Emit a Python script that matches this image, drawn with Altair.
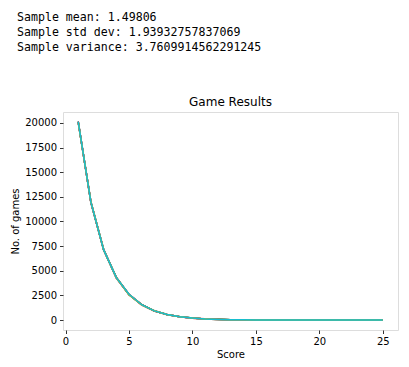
import altair as alt
import pandas as pd

scores = list(range(1, 26))

s0 = [20120, 11930, 7160, 4310, 2590, 1560, 935, 560, 338, 202, 121, 73, 44, 26, 16, 9, 6, 3, 2, 1, 1, 0, 0, 0, 0]
s1 = [20060, 11980, 7130, 4290, 2610, 1545, 925, 566, 332, 199, 119, 71, 43, 27, 15, 10, 5, 3, 2, 1, 0, 1, 0, 0, 0]
s2 = [20090, 11950, 7180, 4330, 2570, 1570, 940, 552, 341, 205, 118, 74, 42, 25, 17, 9, 5, 4, 1, 1, 1, 0, 0, 0, 0]
s3 = [20140, 11900, 7150, 4280, 2600, 1555, 930, 571, 335, 198, 124, 70, 45, 26, 14, 10, 6, 3, 2, 0, 1, 0, 0, 0, 0]
s4 = [20030, 12010, 7170, 4300, 2620, 1540, 945, 558, 329, 207, 120, 72, 41, 28, 16, 8, 5, 3, 2, 1, 0, 0, 1, 0, 0]
s5 = [20100, 11960, 7120, 4320, 2580, 1565, 920, 563, 343, 201, 117, 75, 44, 24, 15, 9, 6, 4, 1, 1, 0, 1, 0, 0, 0]
s6 = [20080, 11940, 7190, 4270, 2605, 1550, 938, 556, 336, 196, 122, 69, 46, 27, 16, 11, 4, 3, 2, 1, 1, 0, 0, 0, 0]
s7 = [20150, 11920, 7140, 4340, 2595, 1575, 928, 569, 331, 203, 119, 73, 43, 25, 17, 9, 6, 2, 2, 1, 0, 0, 0, 1, 0]
s8 = [20050, 11990, 7165, 4295, 2585, 1548, 942, 561, 339, 200, 121, 70, 45, 26, 14, 10, 5, 3, 1, 2, 0, 0, 0, 0, 0]
s9 = [20110, 11955, 7145, 4305, 2615, 1558, 932, 565, 334, 204, 120, 72, 43, 27, 15, 9, 6, 3, 2, 1, 1, 0, 0, 0, 0]

series = [s0, s1, s2, s3, s4, s5, s6, s7, s8, s9]
names = [f"s{i}" for i in range(10)]
colors = ['#1f77b4', '#ff7f0e', '#2ca02c', '#d62728', '#9467bd',
          '#8c564b', '#e377c2', '#7f7f7f', '#bcbd22', '#17becf']

stats_lines = [
    "Sample mean: 1.49806",
    "Sample std dev: 1.93932757837069",
    "Sample variance: 3.7609914562291245",
]
chart_title = "Game Results"

x_ticks = [0, 5, 10, 15, 20, 25]
y_ticks = [0, 2500, 5000, 7500, 10000, 12500, 15000, 17500, 20000]

rows = []
for n, s in zip(names, series):
    for sc, v in zip(scores, s):
        rows.append({"series": n, "score": sc, "games": v})
df = pd.DataFrame(rows)

lines = alt.Chart(df).mark_line(strokeWidth=1.5).encode(
    x=alt.X("score:Q", title="Score",
            scale=alt.Scale(domain=[-0.2, 26.2], nice=False, zero=False),
            axis=alt.Axis(values=x_ticks, grid=False, tickSize=3.5, tickWidth=0.8,
                          tickColor="black", domain=False, labelPadding=3,
                          labelFontSize=10, labelColor="black", labelFont="DejaVu Sans",
                          titleFont="DejaVu Sans", titleFontSize=10, titleFontWeight="normal",
                          titleColor="black", titlePadding=3, labelFlush=False)),
    y=alt.Y("games:Q", title="No. of games",
            scale=alt.Scale(domain=[-1005, 21105], nice=False, zero=False),
            axis=alt.Axis(values=y_ticks, grid=False, tickSize=3.5, tickWidth=0.8,
                          tickColor="black", domain=False, labelPadding=3, format="d",
                          labelFontSize=10, labelColor="black", labelFont="DejaVu Sans",
                          titleFont="DejaVu Sans", titleFontSize=10, titleFontWeight="normal",
                          titleColor="black", titlePadding=4, labelFlush=False)),
    color=alt.Color("series:N", scale=alt.Scale(domain=names, range=colors), legend=None),
    order=alt.Order("score:Q"),
)

stats_df = pd.DataFrame({"line": stats_lines, "idx": [0, 1, 2]})
stats = alt.Chart(stats_df).mark_text(
    align="left", baseline="middle", font="DejaVu Sans Mono", fontSize=11.6, color="black"
).encode(
    x=alt.value(-46),
    y=alt.Y("idx:O", axis=None, scale=alt.Scale(domain=[0, 1, 2], range=[-94, -64], padding=0)),
    text="line:N",
)

title_df = pd.DataFrame({"t": [chart_title]})
title = alt.Chart(title_df).mark_text(
    align="center", baseline="alphabetic", font="DejaVu Sans", fontSize=12, color="black"
).encode(
    x=alt.value(167.5),
    y=alt.value(-6),
    text="t:N",
)

chart = alt.layer(lines, stats, title).resolve_scale(y="independent").properties(
    width=335, height=218,
    autosize=alt.AutoSizeParams(type="none"),
    padding={"left": 63, "top": 112, "right": 11, "bottom": 37},
).configure_view(stroke="black", strokeWidth=1).configure(background="white")

chart.save("out.html", embed_options={"renderer": "svg", "actions": False})
